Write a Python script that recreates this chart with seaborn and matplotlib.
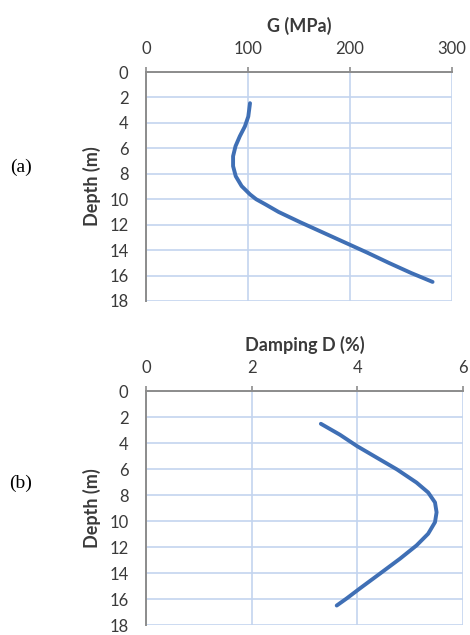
import matplotlib
matplotlib.use("Agg")
import matplotlib.pyplot as plt
import pandas as pd
import seaborn as sns

# Panel (a): shear modulus G vs depth
depth_g = [2.45, 3.5, 4.27, 5.05, 5.83, 6.62, 7.4, 8.19, 8.97, 9.62, 10.0, 10.4,
           11.0, 11.8, 12.6, 13.4, 14.2, 15.0, 15.8, 16.5]
g_mpa = [102, 100.3, 97, 92, 87.8, 85.4, 85.4, 88, 93.8, 102, 108, 117,
         130, 151, 173, 195, 217, 238, 260, 281]

# Panel (b): damping D vs depth
depth_d = [2.52, 3.36, 4.25, 5.13, 6.03, 7.04, 7.8, 8.57, 9.33, 10.09, 10.98,
           11.88, 12.89, 14.04, 15.18, 15.95, 16.5]
damping = [3.31, 3.67, 4.0, 4.37, 4.75, 5.12, 5.34, 5.47, 5.50, 5.47, 5.34,
           5.12, 4.81, 4.43, 4.05, 3.80, 3.61]

depth_ticks = list(range(0, 20, 2))
g_ticks = [0, 100, 200, 300]
d_ticks = [0, 2, 4, 6]

LINE = "#3f6fb5"
GRID = "#c3d4ef"
SPINE = "#8c8c8c"
TXT = "#3a3a3a"

sns.set_theme(style="white")
plt.rcParams["font.family"] = ["Lato", "DejaVu Sans"]

fig = plt.figure(figsize=(4.7, 6.35), dpi=100)
ax_a = fig.add_axes([0.3106, 0.5260, 0.6510, 0.3606])
ax_b = fig.add_axes([0.3106, 0.0157, 0.6745, 0.3685])

df_a = pd.DataFrame({"depth": depth_g, "val": g_mpa})
df_b = pd.DataFrame({"depth": depth_d, "val": damping})


def style(ax, xticks, xlabel):
    ax.set_ylim(18, 0)
    ax.set_xlim(xticks[0], xticks[-1])
    ax.set_xticks(xticks)
    ax.set_yticks(depth_ticks)
    ax.xaxis.tick_top()
    ax.xaxis.set_label_position("top")
    ax.set_xlabel(xlabel, fontsize=13, fontweight="bold", color=TXT, labelpad=7)
    ax.set_ylabel("Depth (m)", fontsize=13, fontweight="bold", color=TXT, labelpad=6)
    ax.tick_params(axis="both", labelsize=12, colors=SPINE, labelcolor=TXT,
                   length=3.5, width=1.2, direction="out")
    ax.tick_params(axis="x", pad=7)
    ax.tick_params(axis="y", pad=9)
    ax.grid(True, color=GRID, linewidth=1.2)
    ax.set_axisbelow(True)
    for side in ["right", "bottom"]:
        ax.spines[side].set_visible(False)
    for side in ["top", "left"]:
        ax.spines[side].set_color(SPINE)
        ax.spines[side].set_linewidth(1.4)
        ax.spines[side].set_zorder(3)


sns.lineplot(data=df_a, x="val", y="depth", sort=False, orient="y", ax=ax_a,
             color=LINE, linewidth=2.8, solid_capstyle="round", solid_joinstyle="round")
style(ax_a, g_ticks, "G (MPa)")

sns.lineplot(data=df_b, x="val", y="depth", sort=False, orient="y", ax=ax_b,
             color=LINE, linewidth=2.8, solid_capstyle="round", solid_joinstyle="round")
style(ax_b, d_ticks, "Damping D (%)")

fig.text(21 / 470, 1 - 167 / 635, "(a)", fontsize=14, family="Liberation Serif",
         ha="center", va="center", color="black")
fig.text(21 / 470, 1 - 483 / 635, "(b)", fontsize=14, family="Liberation Serif",
         ha="center", va="center", color="black")

fig.savefig("out.png", dpi=100)
